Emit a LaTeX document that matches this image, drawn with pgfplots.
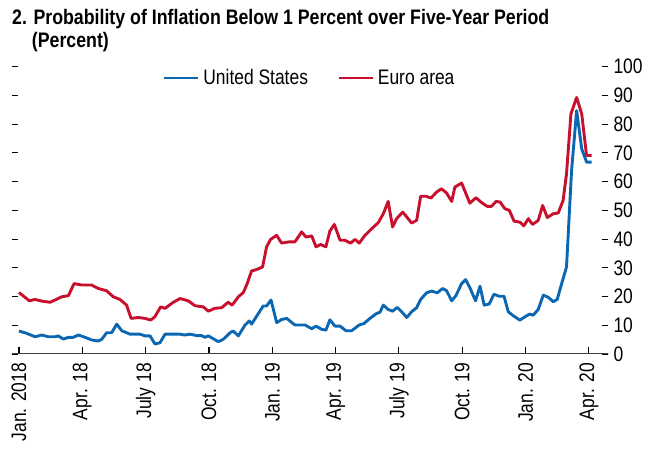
\documentclass[border=0pt]{standalone}
\usepackage{fontspec}
\setmainfont{Liberation Sans}[FakeStretch=0.83]
\newfontfamily\titlefont{Liberation Sans}[FakeStretch=0.845]
\usepackage{pgfplots}
\pgfplotsset{compat=1.18}
\definecolor{usblue}{HTML}{0B67B2}
\definecolor{eured}{HTML}{C8102E}
\newcommand{\chfont}{\fontsize{21}{21}\selectfont}

\begin{document}
\begin{tikzpicture}
\useasboundingbox (-11.7pt,-95pt) rectangle (645.3pt,354pt);
\begin{axis}[
  scale only axis, width=596.6pt, height=287.3pt,
  xmin=-0.346, xmax=27.92, ymin=0, ymax=100,
  axis line style={draw=none},
  xtick={0,3,...,27},
  xticklabels={Jan. 2018, Apr. 18, July 18, Oct. 18, Jan. 19, Apr. 19, July 19, Oct. 19, Jan. 20, Apr. 20},
  xtick pos=bottom,
  ytick={0,10,...,100}, ytick pos=both, yticklabel pos=right,
  tick align=inside, major tick length=6.6pt,
  tick style={black, line width=1.1pt},
  /pgf/number format/assume math mode=true,
  xticklabel style={rotate=90, anchor=east, font=\chfont, inner sep=0pt},
  xticklabel shift=9pt,
  yticklabel style={font=\chfont, inner sep=0pt},
  yticklabel shift=5pt,
  legend style={at={(0.5008,0.9607)}, anchor=center, draw=none, fill=none,
    legend columns=-1, font=\chfont, nodes={inner xsep=3.5pt},
    /tikz/every even column/.append style={column sep=26pt}},
  legend image code/.code={\draw[#1, line width=2.9pt] (0pt,0pt) -- (34pt,0pt);},
]
\draw[black!75, line width=1.8pt] (rel axis cs:0,0) -- (rel axis cs:1.005,0);
\addplot[usblue, line width=2.9pt, line join=round] coordinates {
(0.00,8.0) (0.36,7.2) (0.76,6.0) (1.08,6.6) (1.39,6.0) (1.71,6.0) (1.86,6.3)
(2.10,5.2) (2.34,5.8) (2.57,5.8) (2.81,6.6) (3.13,5.8) (3.44,4.9) (3.76,4.5)
(3.92,5.1) (4.15,7.4) (4.39,7.4) (4.63,10.4) (4.87,8.1) (5.26,6.9) (5.73,6.9)
(5.97,6.3) (6.21,6.3) (6.44,3.5) (6.68,3.9) (6.92,6.9) (7.23,6.9) (7.63,6.9)
(7.86,6.6) (8.10,6.9) (8.42,6.4) (8.65,6.4) (8.81,5.8) (8.97,6.3) (9.44,4.3)
(9.68,5.1) (10.00,7.4) (10.15,8.0) (10.39,6.3) (10.71,10.1) (10.91,11.5)
(11.02,10.4) (11.29,13.5) (11.57,16.7) (11.73,16.7) (11.94,18.8) (12.21,10.9)
(12.44,12.0) (12.68,12.4) (13.07,10.1) (13.55,10.1) (13.87,8.8) (14.07,9.7)
(14.34,8.6) (14.54,8.3) (14.73,11.9) (14.97,9.7) (15.21,9.7) (15.49,8.1)
(15.76,8.1) (16.12,10.1) (16.34,10.6) (16.63,12.4) (16.94,14.1) (17.10,14.5)
(17.26,17.0) (17.49,15.5) (17.70,14.9) (17.92,16.2) (18.13,14.7) (18.37,12.7)
(18.60,14.7) (18.84,16.1) (19.03,19.0) (19.31,21.3) (19.55,21.9) (19.82,21.3)
(20.07,22.8) (20.26,22.0) (20.50,18.5) (20.70,20.3) (20.97,24.5) (21.16,25.9)
(21.36,23.1) (21.63,18.5) (21.84,23.6) (22.04,17.0) (22.28,17.4) (22.50,20.8)
(22.75,20.1) (22.98,20.1) (23.18,14.7) (23.42,13.3) (23.73,11.8) (24.05,13.3)
(24.20,13.9) (24.36,13.5) (24.60,15.5) (24.84,20.5) (25.08,19.7) (25.31,18.2)
(25.50,19.0) (25.71,24.5) (25.94,30.3) (26.18,63.9) (26.42,84.7) (26.66,71.4)
(26.89,66.8) (27.13,66.8)
};
\addplot[eured, line width=2.9pt, line join=round] coordinates {
(0.00,21.4) (0.49,18.5) (0.76,19.0) (1.08,18.4) (1.47,18.0) (1.71,18.8)
(2.02,19.9) (2.34,20.3) (2.61,24.5) (2.97,24.0) (3.44,24.0) (3.76,22.8)
(4.15,22.0) (4.47,19.9) (4.78,19.0) (5.10,17.0) (5.31,12.4) (5.65,12.7)
(5.97,12.4) (6.24,11.8) (6.44,13.0) (6.71,16.4) (6.92,15.9) (7.31,18.0)
(7.63,19.3) (8.02,18.5) (8.34,16.8) (8.73,16.4) (8.97,14.9) (9.28,15.9)
(9.60,16.1) (9.91,18.0) (10.10,17.0) (10.39,19.9) (10.63,21.4) (10.81,24.5)
(11.02,28.9) (11.26,29.4) (11.54,30.3) (11.73,37.3) (11.92,39.9) (12.21,41.3)
(12.44,38.6) (12.76,39.0) (13.07,39.0) (13.39,42.5) (13.60,40.7) (13.87,41.1)
(14.07,37.3) (14.29,38.1) (14.54,37.3) (14.73,42.8) (14.94,45.1) (15.21,39.6)
(15.44,39.6) (15.71,38.6) (15.92,39.9) (16.12,38.6) (16.39,41.3) (16.71,43.6)
(17.02,45.7) (17.26,48.8) (17.49,53.1) (17.70,44.2) (17.89,47.1) (18.18,49.4)
(18.37,47.7) (18.60,45.6) (18.84,46.5) (19.03,54.9) (19.28,54.9) (19.52,54.3)
(19.79,56.4) (20.02,57.5) (20.26,56.0) (20.50,53.1) (20.65,58.1) (20.97,59.5)
(21.36,52.5) (21.65,54.4) (21.92,52.7) (22.18,51.4) (22.39,51.4) (22.60,53.1)
(22.79,52.9) (23.02,50.6) (23.23,50.0) (23.46,46.2) (23.73,45.9) (23.92,44.6)
(24.13,47.1) (24.33,45.1) (24.60,46.5) (24.81,51.7) (25.03,47.5) (25.31,48.8)
(25.55,49.1) (25.78,53.5) (25.94,62.7) (26.15,83.6) (26.42,89.3) (26.66,83.6)
(26.89,69.1) (27.13,69.1)
};
\legend{United States, Euro area}
\end{axis}
\node[anchor=base west, inner sep=0pt, font=\titlefont\fontsize{21}{21}\selectfont\bfseries]
  at (0.3pt,329pt) {2. Probability of Inflation Below 1 Percent over Five-Year Period};
\node[anchor=base west, inner sep=0pt, font=\titlefont\fontsize{21}{21}\selectfont\bfseries]
  at (0.3pt,306.3pt) {\hphantom{2.\ }(Percent)};
\end{tikzpicture}
\end{document}
